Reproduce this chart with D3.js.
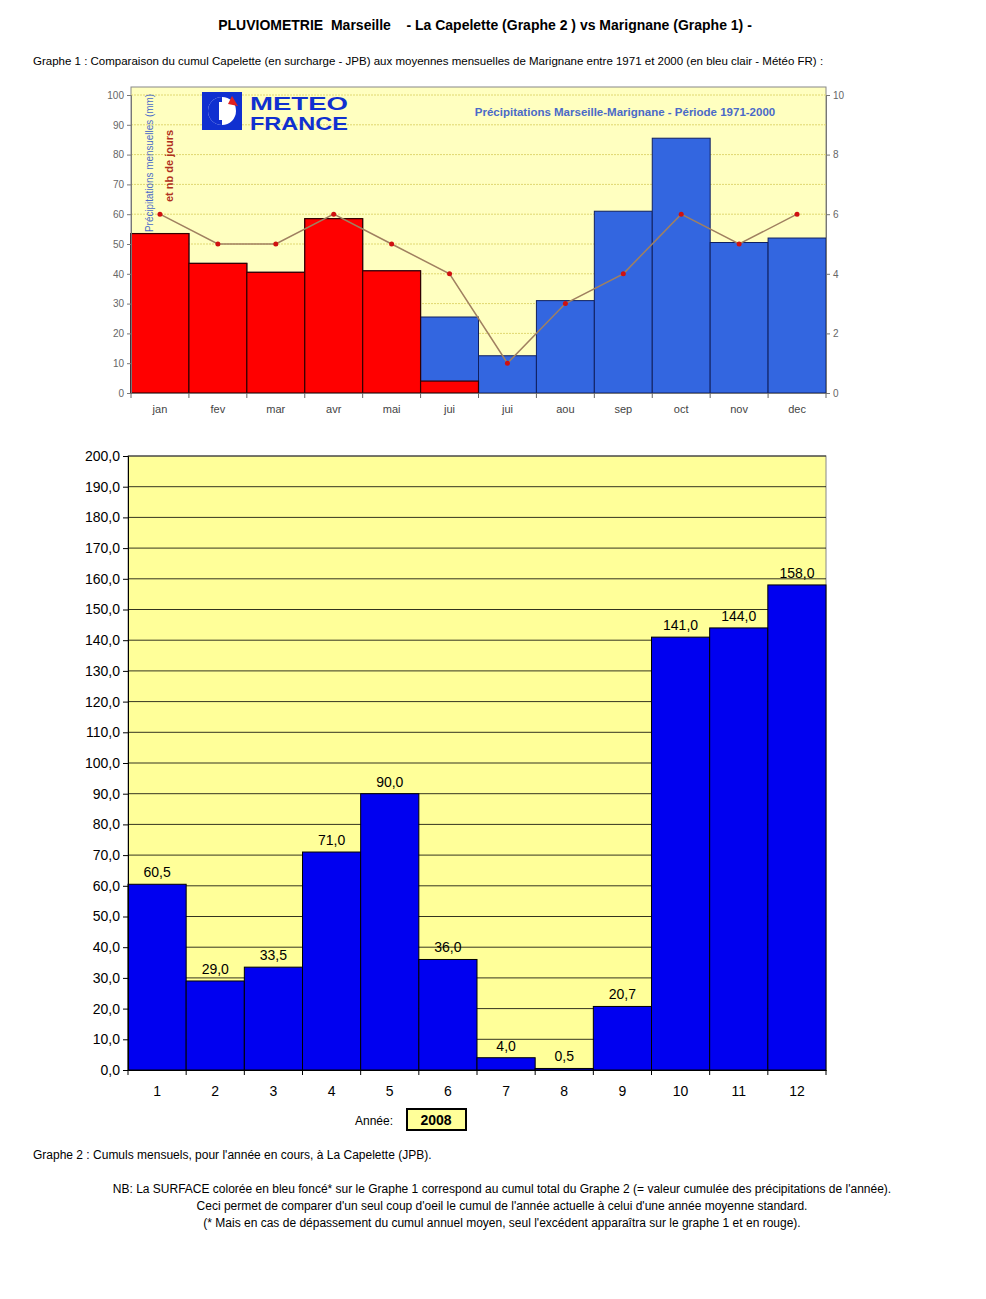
<!DOCTYPE html><html><head><meta charset="utf-8">
<script src="https://cdn.jsdelivr.net/npm/d3@7"></script>
<style>body{margin:0;background:#fff}svg{font-family:"Liberation Sans",Arial,sans-serif}</style></head><body>
<script>
const months=["jan","fev","mar","avr","mai","jui","jui","aou","sep","oct","nov","dec"];
const normals=[53.5,43.5,40.5,58.5,41,25.5,12.5,31,61,85.5,50.5,52];
const excess=[53.5,43.5,40.5,58.5,41,4,0,0,0,0,0,0];
const rainDays=[6,5,5,6,5,4,1,3,4,6,5,6];
const monthNums=["1","2","3","4","5","6","7","8","9","10","11","12"];
const cumul2008=[60.5,29.0,33.5,71.0,90.0,36.0,4.0,0.5,20.7,141.0,144.0,158.0];
const leftTicks=[0,10,20,30,40,50,60,70,80,90,100];
const rightTicks=[0,2,4,6,8,10];
const bottomTicks=d3.range(0,201,10);

const svg=d3.select("body").append("svg").attr("width",986).attr("height",1299);
svg.append("rect").attr("x",0).attr("y",0).attr("width",986).attr("height",1299).attr("fill","#fff");
svg.append("text").attr("x",485).attr("y",30).attr("text-anchor","middle").attr("font-size",14).attr("font-weight","bold")
 .text("PLUVIOMETRIE  Marseille    - La Capelette (Graphe 2 ) vs Marignane (Graphe 1) -").attr("xml:space","preserve");
svg.append("text").attr("x",33).attr("y",65).attr("font-size",11.5)
 .text("Graphe 1 : Comparaison du cumul Capelette (en surcharge - JPB) aux moyennes mensuelles de Marignane entre 1971 et 2000 (en bleu clair - Météo FR) :");

// ---- Top chart
const L=131,R=826,T=95,B=393;
const x1=d3.scaleBand().domain(d3.range(12)).range([L,R]).padding(0);
const y1=d3.scaleLinear().domain([0,100]).range([B,T]);
const y1r=d3.scaleLinear().domain([0,10]).range([B,T]);
const g1=svg.append("g");
g1.append("rect").attr("x",L).attr("y",T-8).attr("width",R-L).attr("height",B-T+8).attr("fill","#ffffc0").attr("stroke","#888");
g1.selectAll(".gl").data(leftTicks.slice(1)).join("line").attr("x1",L).attr("x2",R).attr("y1",d=>y1(d)).attr("y2",d=>y1(d)).attr("stroke","#e0d870").attr("stroke-dasharray","2,1");
g1.selectAll(".nb").data(normals).join("rect").attr("x",(d,i)=>x1(i)).attr("y",d=>y1(d)).attr("width",x1.bandwidth()).attr("height",d=>B-y1(d)).attr("fill","#3366e0").attr("stroke","#102060");
g1.selectAll(".ex").data(excess).join("rect").attr("x",(d,i)=>x1(i)).attr("y",d=>y1(d)).attr("width",x1.bandwidth()).attr("height",d=>B-y1(d)).attr("fill","#ff0000").attr("stroke","#300").attr("stroke-width",1.2);
const line=d3.line().x((d,i)=>x1(i)+x1.bandwidth()/2).y(d=>y1r(d));
g1.append("path").datum(rainDays).attr("d",line).attr("fill","none").attr("stroke","#a08060").attr("stroke-width",1.5);
g1.selectAll(".pt").data(rainDays).join("circle").attr("cx",(d,i)=>x1(i)+x1.bandwidth()/2).attr("cy",d=>y1r(d)).attr("r",2.5).attr("fill","#d01010");
const ax1=svg.append("g").attr("transform",`translate(${L},0)`).call(d3.axisLeft(y1).tickValues(leftTicks).tickSize(4));
const ax1r=svg.append("g").attr("transform",`translate(${R},0)`).call(d3.axisRight(y1r).tickValues(rightTicks).tickSize(4));
const ax1b=svg.append("g").attr("transform",`translate(0,${B})`).call(d3.axisBottom(x1).tickFormat(i=>months[i]).tickSize(0).tickPadding(12));
svg.append("g").attr("transform",`translate(0,${B})`).selectAll("line").data(d3.range(13)).join("line").attr("x1",i=>L+i*x1.step()).attr("x2",i=>L+i*x1.step()).attr("y1",0).attr("y2",5).attr("stroke","#666");
[ax1,ax1r,ax1b].forEach(a=>{a.selectAll("path,line").attr("stroke","#777");a.selectAll("text").attr("font-size",10).attr("fill","#666");});
ax1b.selectAll("text").attr("font-size",11).attr("fill","#444");
svg.append("text").attr("x",625).attr("y",116).attr("text-anchor","middle").attr("font-size",11.5).attr("font-weight","bold").attr("fill","#4a6ac8").text("Précipitations Marseille-Marignane - Période 1971-2000");
svg.append("text").attr("transform","translate(153,232) rotate(-90)").attr("font-size",11).attr("fill","#4a6ac8")
 .attr("textLength",138).attr("lengthAdjust","spacingAndGlyphs").text("Précipitations mensuelles (mm)");
svg.append("text").attr("transform","translate(173,202) rotate(-90)").attr("font-size",11).attr("fill","#b03020").attr("font-weight","bold").text("et nb de jours");
// logo
const lg=svg.append("g").attr("transform","translate(202,92)");
lg.append("rect").attr("width",40).attr("height",38).attr("fill","#1030d0");
lg.append("circle").attr("cx",20).attr("cy",19).attr("r",14).attr("fill","#fff");
lg.append("path").attr("d","M20,5 A14,14 0 0,0 20,33 Z").attr("fill","#1030d0");
lg.append("rect").attr("x",17).attr("y",10).attr("width",6).attr("height",18).attr("fill","#fff");
lg.append("path").attr("d","M30,4 L36,14 L26,12 Z").attr("fill","#e02020");
lg.append("text").attr("x",48).attr("y",18).attr("font-size",19).attr("font-weight","bold").attr("fill","#1030d0")
 .attr("textLength",98).attr("lengthAdjust","spacingAndGlyphs").text("METEO");
lg.append("text").attr("x",48).attr("y",38).attr("font-size",19).attr("font-weight","bold").attr("fill","#1030d0")
 .attr("textLength",98).attr("lengthAdjust","spacingAndGlyphs").text("FRANCE");

// ---- Bottom chart
const L2=128,R2=826,T2=456,B2=1070;
const x2=d3.scaleBand().domain(monthNums).range([L2,R2]).padding(0);
const y2=d3.scaleLinear().domain([0,200]).range([B2,T2]);
svg.append("rect").attr("x",L2).attr("y",T2).attr("width",R2-L2).attr("height",B2-T2).attr("fill","#ffff99").attr("stroke","#888");
svg.selectAll(".g2").data(bottomTicks.slice(1)).join("line").attr("x1",L2).attr("x2",R2).attr("y1",d=>y2(d)).attr("y2",d=>y2(d)).attr("stroke","#000").attr("stroke-width",0.8);
svg.selectAll(".b2").data(cumul2008).join("rect").attr("x",(d,i)=>x2(monthNums[i])).attr("y",d=>y2(d)).attr("width",x2.bandwidth()).attr("height",d=>B2-y2(d)).attr("fill","#0000f0").attr("stroke","#000");
svg.selectAll(".lb").data(cumul2008).join("text").attr("x",(d,i)=>x2(monthNums[i])+x2.bandwidth()/2).attr("y",d=>y2(d)-7).attr("text-anchor","middle").attr("font-size",14).text(d=>d.toFixed(1).replace(".",","));
const ax2=svg.append("g").attr("transform",`translate(${L2},0)`).call(d3.axisLeft(y2).tickValues(bottomTicks).tickSize(5).tickFormat(d=>d.toFixed(1).replace(".",",")));
const ax2b=svg.append("g").attr("transform",`translate(0,${B2})`).call(d3.axisBottom(x2).tickSize(0).tickPadding(16));
svg.append("g").attr("transform",`translate(0,${B2})`).selectAll("line").data(d3.range(13)).join("line").attr("x1",i=>L2+i*x2.step()).attr("x2",i=>L2+i*x2.step()).attr("y1",0).attr("y2",5).attr("stroke","#000");
[ax2,ax2b].forEach(a=>{a.selectAll("path,line").attr("stroke","#000");a.selectAll("text").attr("font-size",14).attr("fill","#000");});

svg.append("text").attr("x",393).attr("y",1125).attr("font-size",12).attr("text-anchor","end").text("Année:");
svg.append("rect").attr("x",407).attr("y",1109).attr("width",59).attr("height",21).attr("fill","#ffff99").attr("stroke","#000").attr("stroke-width",2);
svg.append("text").attr("x",436).attr("y",1125).attr("font-size",14).attr("font-weight","bold").attr("text-anchor","middle").text("2008");
svg.append("text").attr("x",33).attr("y",1159).attr("font-size",12).text("Graphe 2 : Cumuls mensuels, pour l'année en cours, à La Capelette (JPB).");
const nb=["NB: La SURFACE colorée en bleu foncé* sur le Graphe 1 correspond au cumul total du Graphe 2 (= valeur cumulée des précipitations de l'année).",
"Ceci permet de comparer d'un seul coup d'oeil le cumul de l'année actuelle à celui d'une année moyenne standard.",
"(* Mais en cas de dépassement du cumul annuel moyen, seul l'excédent apparaîtra sur le graphe 1 et en rouge)."];
svg.selectAll(".nb2").data(nb).join("text").attr("x",502).attr("y",(d,i)=>1193+i*17).attr("text-anchor","middle").attr("font-size",12).text(d=>d);
</script></body></html>
